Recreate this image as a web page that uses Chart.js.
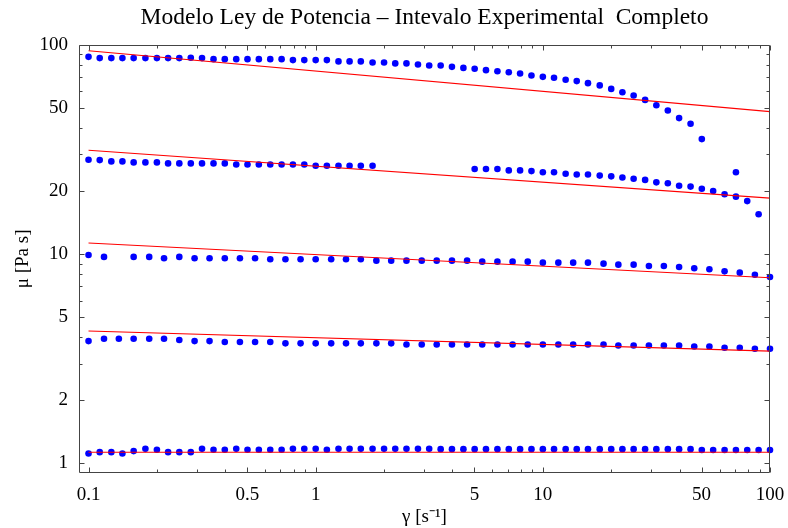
<!DOCTYPE html>
<html><head><meta charset="utf-8">
<script src="https://cdn.jsdelivr.net/npm/chart.js@4"></script>
<style>html,body{margin:0;padding:0;background:#fff}canvas{display:block}</style>
</head><body>
<canvas id="c" width="788" height="528"></canvas>
<script>
// shear rates (20 per decade) for series 1, 2, 5
const shear20 = [0.1, 0.112, 0.126, 0.141, 0.158, 0.178, 0.2, 0.224, 0.251, 0.282,
  0.316, 0.355, 0.398, 0.447, 0.501, 0.562, 0.631, 0.708, 0.794, 0.891,
  1, 1.12, 1.26, 1.41, 1.58, 1.78, 2, 2.24, 2.51, 2.82,
  3.16, 3.55, 3.98, 4.47, 5.01, 5.62, 6.31, 7.08, 7.94, 8.91,
  10, 11.2, 12.6, 14.1, 15.8, 17.8, 20, 22.4, 25.1, 28.2,
  31.6, 35.5, 39.8, 44.7, 50.1, 56.2, 63.1, 70.8, 79.4, 89.1, 100];
// shear rates (15 per decade) for series 3, 4
const shear15 = [0.1, 0.117, 0.136, 0.158, 0.185, 0.215, 0.251, 0.293, 0.341, 0.398,
  0.464, 0.541, 0.631, 0.736, 0.858, 1, 1.17, 1.36, 1.58, 1.85,
  2.15, 2.51, 2.93, 3.41, 3.98, 4.64, 5.41, 6.31, 7.36, 8.58,
  10, 11.7, 13.6, 15.8, 18.5, 21.5, 25.1, 29.3, 34.1, 39.8,
  46.4, 54.1, 63.1, 73.6, 85.8, 100];

const mu1 = [87.5, 86.3, 86.3, 86.3, 86.3, 86.3, 86.3, 86.3, 86.3, 86.6,
  86.3, 85.3, 85.3, 85.3, 85.3, 85.3, 85.3, 85.3, 84.4, 84.4,
  84.4, 84.4, 83.2, 83.2, 83.2, 82.2, 82.2, 81.4, 81.4, 80.4,
  79.6, 79.6, 78.4, 77.5, 76.7, 75.6, 74.7, 73.9, 72.9, 71.3,
  70.2, 69.5, 68.0, 67.0, 65.5, 63.9, 61.5, 59.3, 57.2, 54.5,
  51.4, 48.5, 44.6, 41.9, 35.4, null, null, 24.6, null, null, null];
const mu2 = [28.2, 28.1, 27.7, 27.7, 27.4, 27.4, 27.4, 27.1, 27.1, 27.1,
  27.1, 27.1, 27.1, 26.8, 26.8, 26.8, 26.8, 26.8, 26.8, 26.8,
  26.4, 26.4, 26.4, 26.4, 26.4, 26.4, null, null, null, null,
  null, null, null, null, 25.5, 25.5, 25.5, 25.1, 25.1, 24.9,
  24.6, 24.6, 24.2, 24.0, 24.0, 23.7, 23.5, 23.2, 22.9, 22.6,
  22.0, 21.8, 21.2, 21.0, 20.5, 20.0, 19.3, 18.8, 17.9, 15.5, null];
const mu3 = [9.90, 9.69, null, 9.69, 9.69, 9.55, 9.69, 9.55, 9.55, 9.55,
  9.55, 9.55, 9.44, 9.44, 9.44, 9.44, 9.44, 9.44, 9.44, 9.30,
  9.30, 9.30, 9.30, 9.30, 9.30, 9.30, 9.20, 9.20, 9.20, 9.20,
  9.10, 9.10, 9.10, 9.10, 9.00, 8.90, 8.90, 8.77, 8.77, 8.68,
  8.55, 8.46, 8.27, 8.15, 7.97, 7.77];
const mu4 = [3.84, 3.94, 3.94, 3.94, 3.94, 3.94, 3.885, 3.84, 3.84, 3.80,
  3.80, 3.80, 3.80, 3.745, 3.745, 3.745, 3.745, 3.745, 3.745, 3.745,
  3.745, 3.70, 3.70, 3.70, 3.70, 3.70, 3.70, 3.70, 3.70, 3.70,
  3.70, 3.70, 3.70, 3.70, 3.70, 3.66, 3.66, 3.66, 3.66, 3.66,
  3.62, 3.62, 3.57, 3.57, 3.53, 3.53];
const mu5 = [1.116, 1.132, 1.132, 1.116, 1.145, 1.174, 1.162, 1.132, 1.132, 1.132,
  1.174, 1.162, 1.162, 1.174, 1.162, 1.162, 1.162, 1.162, 1.174, 1.174,
  1.174, 1.162, 1.174, 1.174, 1.174, 1.174, 1.174, 1.174, 1.174, 1.174,
  1.174, 1.17, 1.17, 1.17, 1.17, 1.17, 1.17, 1.17, 1.17, 1.17,
  1.17, 1.17, 1.17, 1.17, 1.17, 1.17, 1.17, 1.17, 1.17, 1.17,
  1.17, 1.17, 1.17, 1.17, 1.16, 1.16, 1.16, 1.16, 1.16, 1.16, 1.16];

// power-law fits (endpoints at 0.1 and 100 s^-1)
const fitShear = [0.1, 100];
const fit1 = [93.5, 47.9];
const fit2 = [31.3, 18.5];
const fit3 = [11.3, 7.71];
const fit4 = [4.29, 3.44];
const fit5 = [1.13, 1.13];

const xTicks = [0.1, 0.5, 1, 5, 10, 50, 100];
const xTickLabels = ['0.1', '0.5', '1', '5', '10', '50', '100'];
const yTicks = [1, 2, 5, 10, 20, 50, 100];
const yTickLabels = ['1', '2', '5', '10', '20', '50', '100'];
const xMinor = [0.2, 0.3, 0.4, 0.6, 0.7, 0.8, 0.9, 2, 3, 4, 6, 7, 8, 9, 20, 30, 40, 60, 70, 80, 90];
const yMinor = [3, 4, 6, 7, 8, 9, 30, 40, 60, 70, 80, 90];

const titleText = 'Modelo Ley de Potencia \u2013 Intevalo Experimental  Completo';
const xTitle = '\u03B3 [s\u207B\u00B9]';
const yTitle = '\u03BC [Pa s]';

function pts(xs, ys) {
  const out = [];
  for (let i = 0; i < ys.length; i++) if (ys[i] !== null) out.push({x: xs[i], y: ys[i]});
  return out;
}
const fits = [fit1, fit2, fit3, fit4, fit5];
const series = [[shear20, mu1], [shear20, mu2], [shear15, mu3], [shear15, mu4], [shear20, mu5]];

const datasets = [];
fits.forEach(f => datasets.push({
  type: 'scatter', data: pts(fitShear, f), showLine: true, borderColor: '#ff0000',
  borderWidth: 1.1, pointRadius: 0, fill: false, clip: false
}));
series.forEach(s => datasets.push({
  type: 'scatter', data: pts(s[0], s[1]), showLine: false, pointRadius: 3.3,
  pointBorderWidth: 0, backgroundColor: '#0000ff', borderColor: '#0000ff', clip: false
}));

const FONT = 'Liberation Serif, Times New Roman, serif';

const framePlugin = {
  id: 'frame',
  afterDatasetsDraw(chart) {
    const {ctx, chartArea: a, scales: {x, y}} = chart;
    ctx.save();
    ctx.strokeStyle = '#444';
    ctx.lineWidth = 1;
    const L = Math.round(a.left) + 0.5, R = Math.round(a.right) - 0.5;
    const T = Math.round(a.top) + 0.5, B = Math.round(a.bottom) - 0.5;
    ctx.beginPath();
    ctx.rect(L, T, R - L, B - T);
    ctx.stroke();
    ctx.beginPath();
    const xt = (v, len) => {
      const p = Math.round(x.getPixelForValue(v)) + 0.5;
      ctx.moveTo(p, B); ctx.lineTo(p, B - len);
      ctx.moveTo(p, T); ctx.lineTo(p, T + len);
    };
    const yt = (v, len) => {
      const p = Math.round(y.getPixelForValue(v)) + 0.5;
      ctx.moveTo(L, p); ctx.lineTo(L + len, p);
      ctx.moveTo(R, p); ctx.lineTo(R - len, p);
    };
    xTicks.forEach(v => xt(v, 5));
    xMinor.forEach(v => xt(v, 3));
    yTicks.forEach(v => yt(v, 5));
    yMinor.forEach(v => yt(v, 3));
    ctx.stroke();
    ctx.restore();
  }
};

new Chart(document.getElementById('c'), {
  type: 'scatter',
  data: {datasets},
  options: {
    responsive: false,
    animation: false,
    devicePixelRatio: 1,
    layout: {padding: {left: 0, right: 18, top: 0, bottom: 0}},
    plugins: {
      legend: {display: false},
      tooltip: {enabled: false},
      title: {
        display: true, text: titleText, fullSize: false, color: '#000',
        font: {family: FONT, size: 23.5, weight: 'normal'},
        padding: {top: 3.4, bottom: 13.1}
      }
    },
    scales: {
      x: {
        type: 'logarithmic', position: 'bottom', min: 0.0908, max: 100,
        grid: {display: false, drawTicks: false}, border: {display: false},
        afterBuildTicks: s => { s.ticks = xTicks.map(v => ({value: v})); },
        ticks: {
          autoSkip: false, maxRotation: 0, padding: 11, color: '#000',
          font: {family: FONT, size: 19},
          callback: v => xTickLabels[xTicks.indexOf(v)]
        },
        title: {display: true, text: xTitle, color: '#000', font: {family: FONT, size: 19}, padding: {top: 0, bottom: 0}},
        afterFit: s => { s.height = 55; s.paddingLeft = 0; s.paddingRight = 0; }
      },
      y: {
        type: 'logarithmic', position: 'left', min: 0.9, max: 100,
        grid: {display: false, drawTicks: false}, border: {display: false},
        afterBuildTicks: s => { s.ticks = yTicks.map(v => ({value: v})); },
        ticks: {
          autoSkip: false, padding: 11, color: '#000',
          font: {family: FONT, size: 19},
          callback: v => yTickLabels[yTicks.indexOf(v)]
        },
        title: {display: true, text: yTitle, color: '#000', font: {family: FONT, size: 19}, padding: {top: 12, bottom: 0}},
        afterFit: s => { s.width = 79; s.paddingTop = 0; s.paddingBottom = 0; }
      }
    }
  },
  plugins: [framePlugin]
});
</script>
</body></html>
